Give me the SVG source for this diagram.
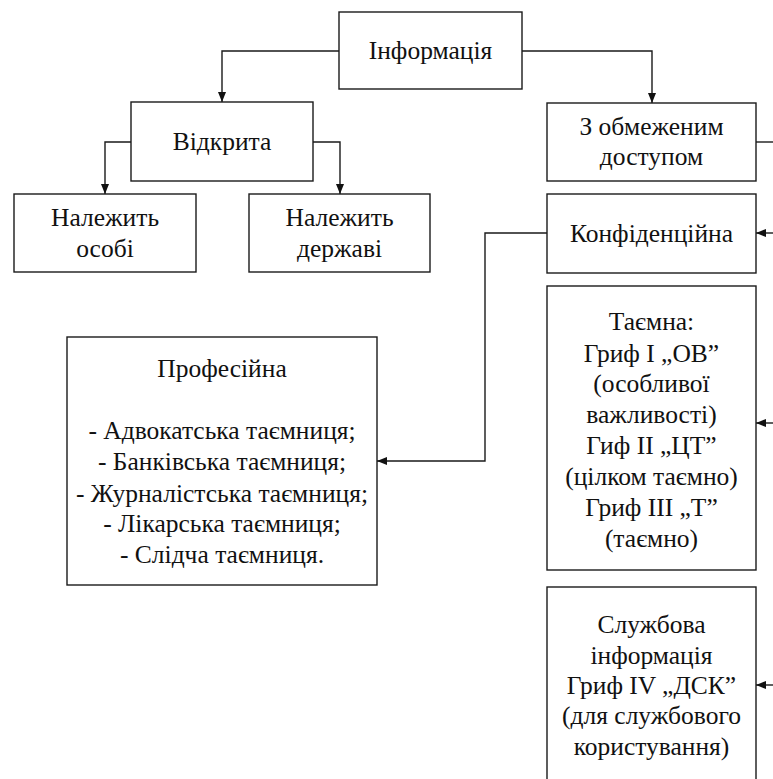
<svg xmlns="http://www.w3.org/2000/svg" width="773" height="779" viewBox="0 0 773 779">
  <style>
    .box { fill: #ffffff; stroke: #1a1a1a; stroke-width: 1.4; }
    .wire { fill: none; stroke: #1a1a1a; stroke-width: 1.4; }
    text { font-family: 'Liberation Serif', 'Times New Roman', serif; font-size: 25.5px; fill: #111111; text-anchor: middle; }
  </style>
  <defs>
    <marker id="arrow" viewBox="0 0 10 10" refX="10" refY="5" markerWidth="10" markerHeight="10" markerUnits="userSpaceOnUse" orient="auto">
      <path d="M0,1 L10,5 L0,9 Z" fill="#111111"/>
    </marker>
  </defs>
  <rect width="773" height="779" fill="#ffffff"/>

  <g id="connectors">
    <path class="wire" d="M339,51 H222 V102" marker-end="url(#arrow)"/>
    <path class="wire" d="M522,51 H652 V103" marker-end="url(#arrow)"/>
    <path class="wire" d="M131,142 H105 V194" marker-end="url(#arrow)"/>
    <path class="wire" d="M313,142 H340 V194" marker-end="url(#arrow)"/>
    <path class="wire" d="M756,142 H775"/>
    <path class="wire" d="M775,233 H756" marker-end="url(#arrow)"/>
    <path class="wire" d="M547,233 H485 V461 H377" marker-end="url(#arrow)"/>
    <path class="wire" d="M775,423 H756" marker-end="url(#arrow)"/>
    <path class="wire" d="M775,685 H756" marker-end="url(#arrow)"/>
  </g>

  <g id="informatsiya">
    <rect class="box" x="339" y="12" width="183" height="77"/>
    <text x="430.5" y="59">Інформація</text>
  </g>

  <g id="vidkryta">
    <rect class="box" x="131" y="102" width="182" height="79"/>
    <text x="222" y="150">Відкрита</text>
  </g>

  <g id="nalezhyt-osobi">
    <rect class="box" x="14" y="194" width="182" height="78"/>
    <text x="105" y="226">Належить</text>
    <text x="105" y="257">особі</text>
  </g>

  <g id="nalezhyt-derzhavi">
    <rect class="box" x="249" y="194" width="181" height="78"/>
    <text x="339.5" y="226">Належить</text>
    <text x="339.5" y="257">державі</text>
  </g>

  <g id="obmezhenyi-dostup">
    <rect class="box" x="547" y="103" width="209" height="78"/>
    <text x="651.5" y="135">З обмеженим</text>
    <text x="651.5" y="165">доступом</text>
  </g>

  <g id="konfidentsiina">
    <rect class="box" x="547" y="194" width="209" height="79"/>
    <text x="651.5" y="241.5">Конфіденційна</text>
  </g>

  <g id="profesiina">
    <rect class="box" x="67" y="337" width="310" height="248"/>
    <text x="222" y="377">Професійна</text>
    <text x="222" y="439">- Адвокатська таємниця;</text>
    <text x="222" y="470">- Банківська таємниця;</text>
    <text x="222" y="501.5">- Журналістська таємниця;</text>
    <text x="222" y="532">- Лікарська таємниця;</text>
    <text x="222" y="563">- Слідча таємниця.</text>
  </g>

  <g id="taemna">
    <rect class="box" x="547" y="286" width="209" height="284"/>
    <text x="651.5" y="330">Таємна:</text>
    <text x="651.5" y="361.5">Гриф I „ОВ”</text>
    <text x="651.5" y="392">(особливої</text>
    <text x="651.5" y="423">важливості)</text>
    <text x="651.5" y="454">Гиф II „ЦТ”</text>
    <text x="651.5" y="485">(цілком таємно)</text>
    <text x="651.5" y="516">Гриф III „Т”</text>
    <text x="651.5" y="547">(таємно)</text>
  </g>

  <g id="sluzhbova">
    <rect class="box" x="547" y="587" width="209" height="210"/>
    <text x="651.5" y="633">Службова</text>
    <text x="651.5" y="663.5">інформація</text>
    <text x="651.5" y="693.5">Гриф IV „ДСК”</text>
    <text x="651.5" y="724">(для службового</text>
    <text x="651.5" y="755">користування)</text>
  </g>
</svg>
